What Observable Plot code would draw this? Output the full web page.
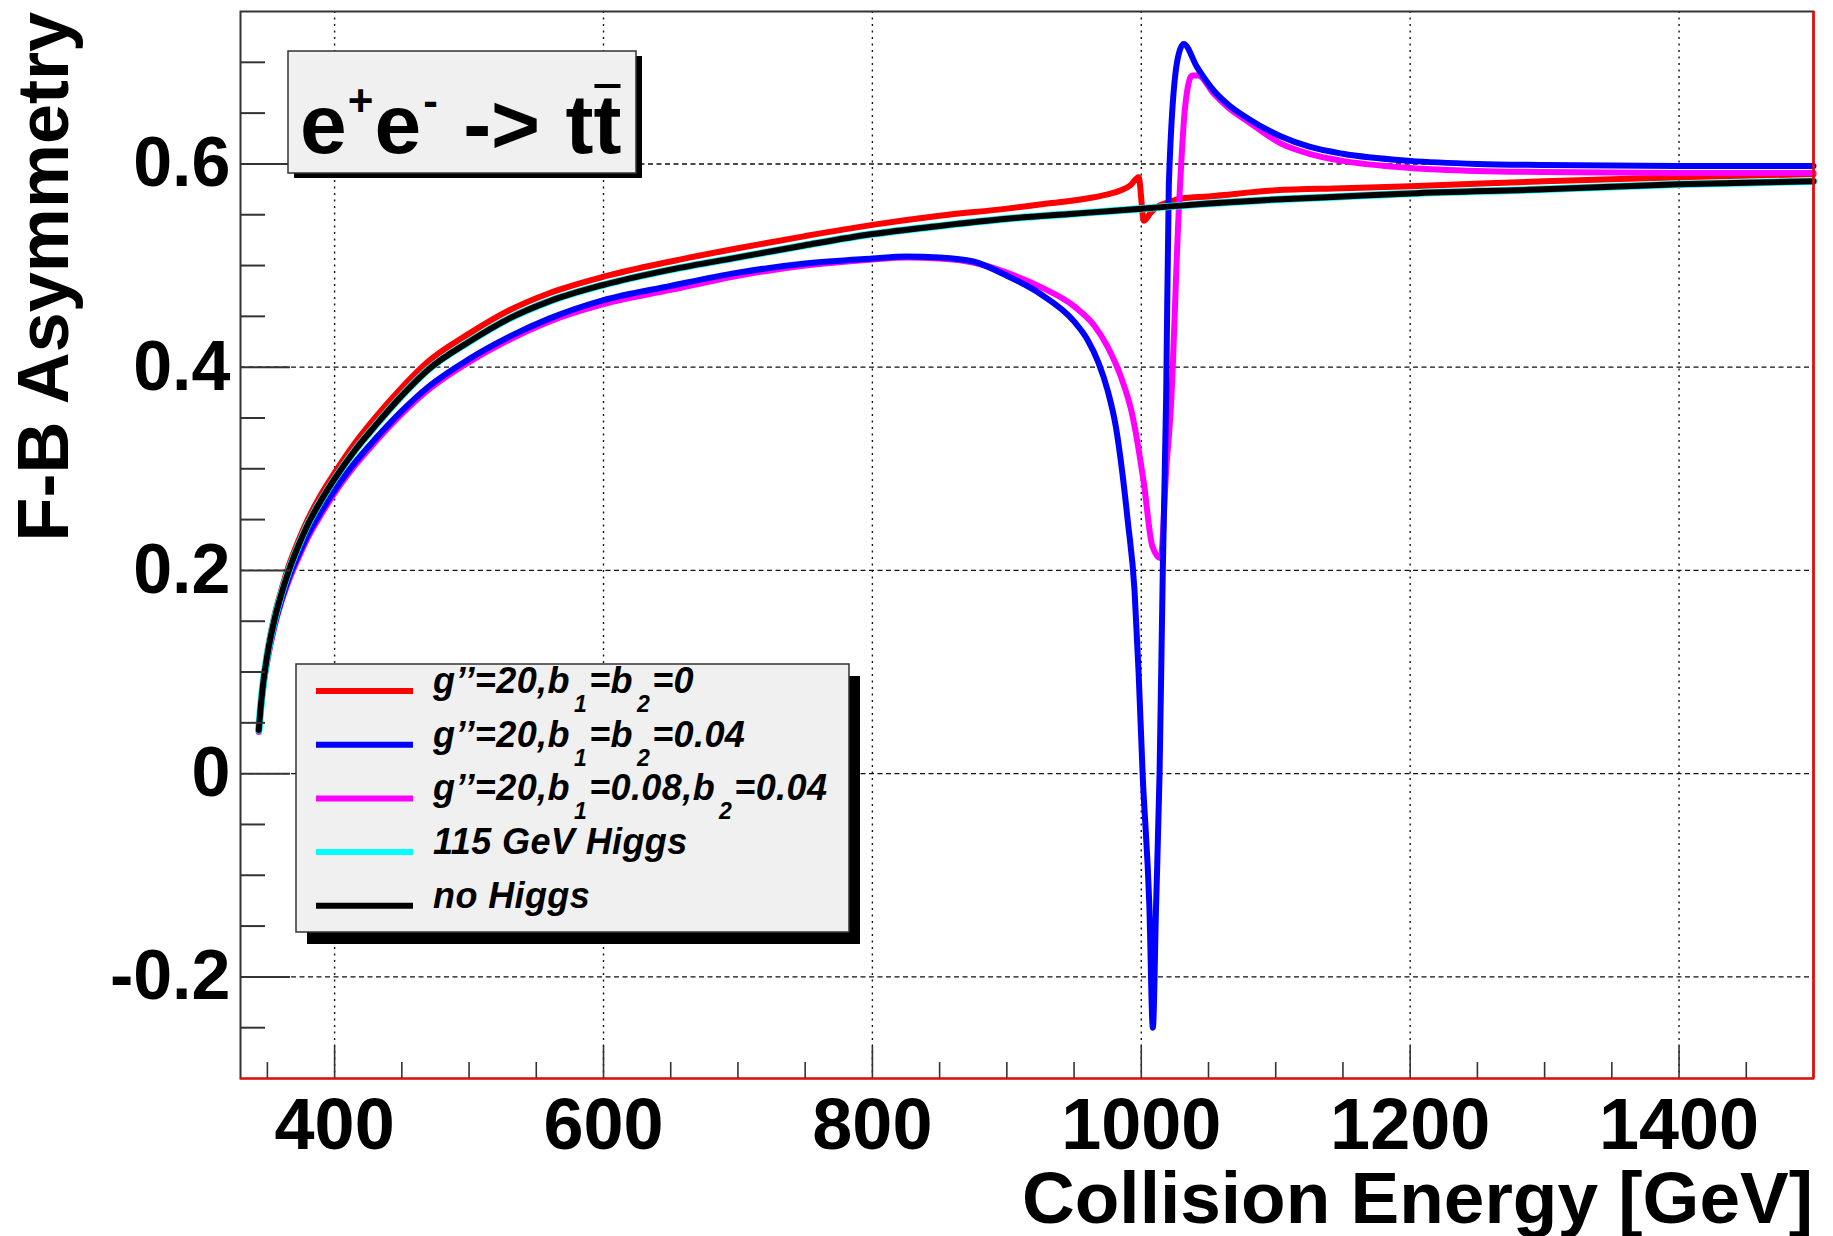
<!DOCTYPE html>
<html><head><meta charset="utf-8">
<script src="https://cdn.jsdelivr.net/npm/d3@7"></script>
<script src="https://cdn.jsdelivr.net/npm/@observablehq/plot@0.6"></script>
<style>html,body{margin:0;padding:0;background:#fff;overflow:hidden}</style>
</head><body><div id="chart"></div>
<script>
// ---------------- data ----------------
const xMajor = [400, 600, 800, 1000, 1200, 1400];
const xMinor = [350, 450, 500, 550, 650, 700, 750, 850, 900, 950, 1050, 1100, 1150, 1250, 1300, 1350, 1450];
const yMajor = [-0.2, 0, 0.2, 0.4, 0.6];
const yMinor = [-0.25, -0.15, -0.1, -0.05, 0.05, 0.1, 0.15, 0.25, 0.3, 0.35, 0.45, 0.5, 0.55, 0.65, 0.7];
const yLabels = ["-0.2", "0", "0.2", "0.4", "0.6"];

// no Higgs (black) and 115 GeV Higgs (cyan)
const smE = [343.6, 345, 347, 350, 355, 360, 366, 373, 380, 390, 400, 415, 430, 450, 470, 500, 530, 560, 600, 650, 700, 750, 800, 850, 900, 950, 1000, 1050, 1100, 1150, 1200, 1300, 1400, 1500];
const noHiggsA = [0.043, 0.065, 0.09, 0.117, 0.15, 0.175, 0.2, 0.224, 0.245, 0.269, 0.29, 0.318, 0.342, 0.372, 0.398, 0.425, 0.448, 0.465, 0.481, 0.496, 0.508, 0.52, 0.531, 0.539, 0.546, 0.551, 0.556, 0.561, 0.565, 0.568, 0.571, 0.575, 0.58, 0.583];
const higgs115A = [0.043, 0.065, 0.09, 0.117, 0.15, 0.175, 0.2, 0.224, 0.245, 0.269, 0.29, 0.318, 0.342, 0.372, 0.398, 0.425, 0.448, 0.465, 0.481, 0.496, 0.508, 0.52, 0.531, 0.539, 0.546, 0.551, 0.556, 0.561, 0.565, 0.568, 0.571, 0.575, 0.58, 0.583];

// g''=20, b1=b2=0 (red)
const redE = [343.6, 345, 347, 350, 355, 360, 366, 373, 380, 390, 400, 415, 430, 450, 470, 500, 530, 560, 600, 650, 700, 750, 800, 850, 900, 930, 955, 975, 985, 992, 998, 1002, 1007, 1012, 1020, 1030, 1050, 1100, 1150, 1200, 1300, 1400, 1500];
const redA = [0.045, 0.067, 0.092, 0.12, 0.154, 0.179, 0.205, 0.229, 0.25, 0.275, 0.296, 0.325, 0.35, 0.38, 0.406, 0.433, 0.456, 0.473, 0.489, 0.504, 0.517, 0.529, 0.54, 0.549, 0.556, 0.561, 0.565, 0.57, 0.574, 0.579, 0.587, 0.544, 0.552, 0.558, 0.562, 0.566, 0.568, 0.574, 0.576, 0.578, 0.583, 0.587, 0.59];

// g''=20, b1=b2=0.04 (blue)
const blueE = [343.6, 345, 347, 350, 355, 360, 366, 373, 380, 390, 400, 415, 430, 450, 470, 500, 530, 560, 600, 650, 700, 750, 800, 825, 850, 875, 900, 925, 950, 960, 968, 975, 981, 986, 990, 995, 998, 1001, 1006, 1008.6, 1011, 1013.6, 1016, 1018.5, 1020.5, 1027, 1031.5, 1041.6, 1054, 1065, 1079, 1104, 1125, 1150, 1200, 1250, 1300, 1400, 1500];
const blueA = [0.042, 0.063, 0.087, 0.113, 0.145, 0.169, 0.193, 0.215, 0.235, 0.258, 0.279, 0.306, 0.329, 0.357, 0.381, 0.408, 0.43, 0.448, 0.466, 0.48, 0.493, 0.502, 0.507, 0.509, 0.508, 0.504, 0.49, 0.472, 0.445, 0.427, 0.405, 0.377, 0.342, 0.295, 0.248, 0.18, 0.1, 0.0, -0.13, -0.25, -0.13, 0.0, 0.2, 0.37, 0.58, 0.703, 0.718, 0.695, 0.672, 0.658, 0.645, 0.627, 0.617, 0.61, 0.603, 0.6, 0.599, 0.598, 0.598];

// g''=20, b1=0.08, b2=0.04 (magenta)
const magE = [343.6, 345, 347, 350, 355, 360, 366, 373, 380, 390, 400, 415, 430, 450, 470, 500, 530, 560, 600, 650, 700, 750, 800, 825, 850, 875, 900, 925, 950, 965, 975, 985, 993, 1002, 1008.2, 1014.4, 1018.6, 1022, 1028, 1032.6, 1037.7, 1042.3, 1054, 1065, 1079, 1104, 1125, 1150, 1200, 1250, 1300, 1400, 1500];
const magA = [0.041, 0.062, 0.086, 0.111, 0.143, 0.167, 0.19, 0.212, 0.232, 0.255, 0.276, 0.303, 0.326, 0.354, 0.378, 0.405, 0.427, 0.445, 0.462, 0.476, 0.49, 0.5, 0.506, 0.508, 0.507, 0.503, 0.493, 0.479, 0.46, 0.441, 0.42, 0.39, 0.355, 0.285, 0.224, 0.212, 0.3, 0.36, 0.557, 0.656, 0.687, 0.687, 0.669, 0.655, 0.642, 0.62, 0.61, 0.603, 0.596, 0.593, 0.592, 0.591, 0.591];

const seriesNames = ["g’’=20,b1=b2=0", "g’’=20,b1=b2=0.04", "g’’=20,b1=0.08,b2=0.04", "115 GeV Higgs", "no Higgs"];
const seriesColors = ["#ff0000", "#0000ff", "#ff00ff", "#00ffff", "#000000"];

// ---------------- build ----------------
const FONT = "'Liberation Sans', Arial, Helvetica, sans-serif";
const W = 1833, H = 1236;
const mL = 240, mR = 20, mT = 11, mB = 158;
const fw = W - mL - mR, fh = H - mT - mB;

const toRows = (E, A) => E.map((e, i) => ({e, a: A[i]}));
const seriesData = [
  {data: toRows(redE, redA), color: seriesColors[0], w: 6},
  {data: toRows(magE, magA), color: seriesColors[2], w: 6},
  {data: toRows(blueE, blueA), color: seriesColors[1], w: 6},
  {data: toRows(smE, higgs115A), color: seriesColors[3], w: 7.5},
  {data: toRows(smE, noHiggsA), color: seriesColors[4], w: 6}
];

const chart = Plot.plot({
  width: W, height: H,
  marginLeft: mL, marginRight: mR, marginTop: mT, marginBottom: mB,
  x: {domain: [330, 1500], axis: null},
  y: {domain: [-0.3, 0.75], axis: null},
  style: {fontFamily: FONT, background: "white", overflow: "visible"},
  marks: [
    Plot.ruleX(xMajor, {x: d => d, stroke: "#111", strokeWidth: 1.4, strokeDasharray: "2,4.5"}),
    Plot.ruleY(yMajor, {y: d => d, stroke: "#111", strokeWidth: 1.4, strokeDasharray: "5,3.5"}),
    ...seriesData.map(s => Plot.line(s.data, {x: "e", y: "a", stroke: s.color, strokeWidth: s.w, curve: "monotone-x", strokeLinejoin: "round"})),
    Plot.ruleY(yMajor, {y: d => d, insetRight: fw - 50, stroke: "#333", strokeWidth: 2}),
    Plot.ruleY(yMinor, {y: d => d, insetRight: fw - 25, stroke: "#333", strokeWidth: 2}),
    Plot.ruleX(xMajor, {x: d => d, insetTop: fh - 32, stroke: "#333", strokeWidth: 1.6}),
    Plot.ruleX(xMinor, {x: d => d, insetTop: fh - 16, stroke: "#333", strokeWidth: 1.6}),
    Plot.frame({stroke: "#333", strokeWidth: 2}),
    Plot.ruleX([1500], {x: d => d, stroke: "#ff0000", strokeWidth: 2.5}),
    Plot.ruleY([-0.3], {y: d => d, stroke: "#ff0000", strokeWidth: 2}),
    Plot.text(yMajor, {y: d => d, frameAnchor: "left", dx: -10, textAnchor: "end", text: (d, i) => yLabels[i], fontSize: 70, fontWeight: "bold", fill: "#000"}),
    Plot.text(xMajor, {x: d => d, frameAnchor: "bottom", dy: 19, lineAnchor: "top", text: d => String(d), fontSize: 72, fontWeight: "bold", fill: "#000"})
  ]
});
document.getElementById("chart").appendChild(chart);

const svg = d3.select(chart);

// axis titles
svg.append("text")
  .attr("transform", "translate(68,12) rotate(-90)")
  .attr("text-anchor", "end")
  .attr("font-family", FONT).attr("font-weight", "bold").attr("font-size", 72).attr("fill", "#000")
  .text("F-B Asymmetry");
svg.append("text")
  .attr("x", 1813).attr("y", 1223)
  .attr("text-anchor", "end")
  .attr("font-family", FONT).attr("font-weight", "bold").attr("font-size", 73).attr("fill", "#000")
  .text("Collision Energy [GeV]");

// title box
const tb = {x: 288, y: 51, w: 348, h: 122};
svg.append("rect").attr("x", tb.x + 6).attr("y", tb.y + 5).attr("width", tb.w).attr("height", tb.h).attr("fill", "#000");
svg.append("rect").attr("x", tb.x).attr("y", tb.y).attr("width", tb.w).attr("height", tb.h).attr("fill", "#f0f0f0").attr("stroke", "#333").attr("stroke-width", 1.5);
const tt = svg.append("text").attr("x", 300).attr("y", 153)
  .attr("text-anchor", "start")
  .attr("font-family", FONT).attr("font-weight", "bold").attr("font-size", 84).attr("fill", "#000")
  .style("white-space", "pre").style("word-spacing", "2px");
tt.append("tspan").text("e");
tt.append("tspan").attr("font-size", 44).attr("dy", -37).attr("dx", 1).text("+");
tt.append("tspan").attr("dy", 37).attr("dx", 1).text("e");
tt.append("tspan").attr("font-size", 44).attr("dy", -37).attr("dx", 2).text("-");
tt.append("tspan").attr("dy", 37).text(" -> tt");
{
  const node = tt.node();
  const n = node.getNumberOfChars();
  const ext = node.getExtentOfChar(n - 1);
  svg.append("rect").attr("x", ext.x + 1).attr("y", 84).attr("width", ext.width - 2).attr("height", 4).attr("fill", "#000");
}

// legend
const lg = {x: 296, y: 664, w: 553, h: 268};
svg.append("rect").attr("x", lg.x + 11).attr("y", lg.y + 12).attr("width", lg.w).attr("height", lg.h).attr("fill", "#000");
svg.append("rect").attr("x", lg.x).attr("y", lg.y).attr("width", lg.w).attr("height", lg.h).attr("fill", "#f0f0f0").attr("stroke", "#333").attr("stroke-width", 1.5);
const rowY0 = 691, rowDY = 53.7, SUB = 19;
seriesNames.forEach((name, i) => {
  const y = rowY0 + i * rowDY;
  svg.append("line").attr("x1", 316).attr("x2", 413).attr("y1", y).attr("y2", y)
    .attr("stroke", seriesColors[i]).attr("stroke-width", 6);
  const t = svg.append("text").attr("x", 433).attr("y", y + 2)
    .attr("text-anchor", "start")
    .attr("font-family", FONT).attr("font-weight", "bold").attr("font-style", "italic")
    .attr("font-size", 36).attr("letter-spacing", 0.4).attr("fill", "#000");
  // split b1 / b2 into subscripts
  const parts = name.split(/(b[12])/).filter(p => p.length);
  let pendingUp = false;
  parts.forEach(p => {
    if (/^b[12]$/.test(p)) {
      const s = t.append("tspan").text("b");
      if (pendingUp) s.attr("dy", -SUB).attr("dx", 2);
      t.append("tspan").attr("font-size", 23).attr("dy", SUB).attr("dx", 4).text(p[1]);
      pendingUp = true;
    } else {
      const s = t.append("tspan").text(p);
      if (pendingUp) s.attr("dy", -SUB).attr("dx", 2);
      pendingUp = false;
    }
  });
});
</script></body></html>
